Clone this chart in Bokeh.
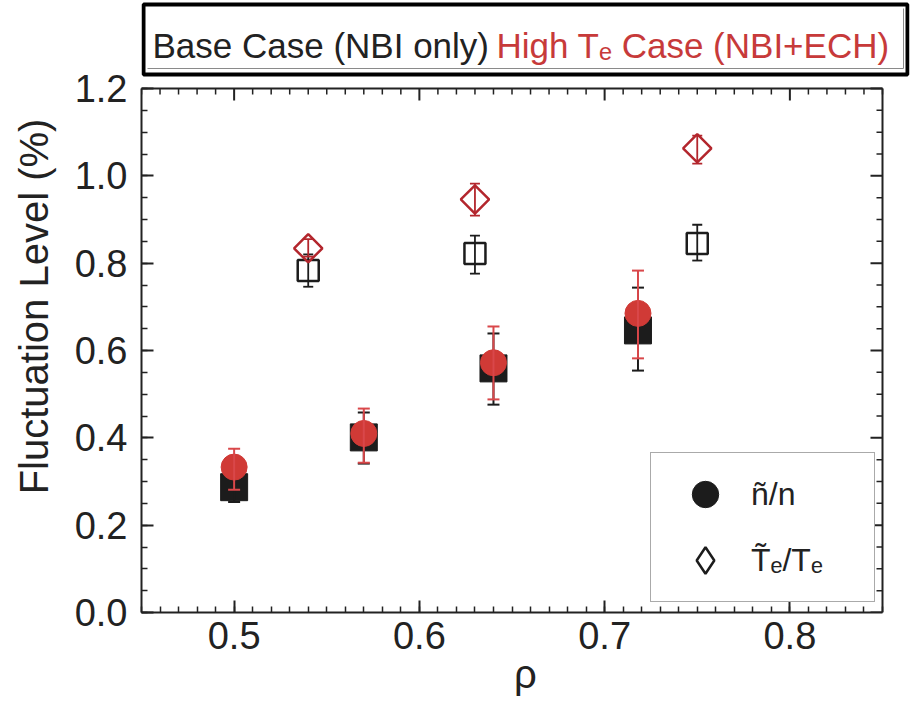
import numpy as np
from bokeh.plotting import figure
from bokeh.models import (Range1d, FixedTicker, NumeralTickFormatter,
                          Legend, LegendItem, Label)
from bokeh.embed import file_html
from bokeh.resources import INLINE

FONT = "Liberation Sans"
BLACK = "#1c1c1c"
RED = "#d03a36"
RED_BAR = "#d9474a"
DRED = "#b3262d"
TXT_RED = "#c73a3a"
AX = "#222222"

# ---------------- data ----------------
rho_n = [0.50, 0.57, 0.64, 0.718]
base_n = [0.287, 0.401, 0.559, 0.646]
base_n_lo = [0.253, 0.341, 0.476, 0.554]
base_n_hi = [0.320, 0.458, 0.639, 0.744]
high_n = [0.333, 0.410, 0.572, 0.685]
high_n_lo = [0.281, 0.343, 0.488, 0.582]
high_n_hi = [0.375, 0.467, 0.655, 0.783]

rho_T = [0.54, 0.63, 0.75]
base_T = [0.783, 0.822, 0.845]
base_T_lo = [0.746, 0.776, 0.806]
base_T_hi = [0.820, 0.863, 0.888]
high_T = [0.834, 0.946, 1.063]
high_T_lo = [0.815, 0.909, 1.028]
high_T_hi = [0.855, 0.982, 1.092]

x_ticks = [0.5, 0.6, 0.7, 0.8]
x_minor = [round(0.45 + 0.01 * i, 2) for i in range(41)]
y_ticks = [0.0, 0.2, 0.4, 0.6, 0.8, 1.0, 1.2]
y_minor = [round(0.05 * i, 2) for i in range(25)]

title_parts = ["Base Case (NBI only)", "High T\u2091 Case (NBI+ECH)"]
legend_labels = ["\u00f1/n", "T\u0303\u2091/T\u2091"]
x_label = "\u03c1"
y_label = "Fluctuation Level (%)"

# ---------------- layout constants (pixels) ----------------
W, H = 911, 709
PL, PR, PT, PB = 141, 882, 88, 612          # plot box
FL, FR, FT, FB = 141, 909, 0, 612           # bokeh frame (includes the title band)
X0, X1 = 0.45, 0.85
Y0, Y1 = 0.0, 1.2
DX = (X1 - X0) / (PR - PL)
DY = (Y1 - Y0) / (PB - PT)


def px2x(px):
    return X0 + (px - PL) * DX


def py2y(py):
    return Y0 + (PB - py) * DY


p = figure(width=W, height=H,
           x_range=Range1d(px2x(FL), px2x(FR)), y_range=Range1d(py2y(FB), py2y(FT)),
           output_backend="svg", toolbar_location=None,
           min_border_left=FL, min_border_right=W - FR, min_border_top=FT,
           min_border_bottom=H - FB,
           x_axis_label=x_label, y_axis_label=y_label)
p.grid.visible = False
p.background_fill_color = "white"
p.border_fill_color = "white"
p.outline_line_color = None

p.xaxis.ticker = FixedTicker(ticks=x_ticks, minor_ticks=x_minor)
p.yaxis.ticker = FixedTicker(ticks=y_ticks, minor_ticks=y_minor)
p.xaxis.bounds = (X0, X1)
p.yaxis.bounds = (Y0, Y1)
for ax in p.axis:
    ax.formatter = NumeralTickFormatter(format="0.0")
    ax.axis_line_width = 2
    ax.axis_line_color = AX
    ax.major_tick_in = 12
    ax.major_tick_out = 0
    ax.minor_tick_in = 6
    ax.minor_tick_out = 0
    ax.major_tick_line_width = 2
    ax.minor_tick_line_width = 1.5
    ax.major_tick_line_color = AX
    ax.minor_tick_line_color = AX
    ax.major_label_text_font = FONT
    ax.major_label_text_font_size = "38px"
    ax.major_label_text_color = AX
    ax.axis_label_text_font = FONT
    ax.axis_label_text_font_style = "normal"
    ax.axis_label_text_color = AX
p.xaxis.major_label_standoff = 9
p.yaxis.major_label_standoff = 14
p.xaxis.axis_label_text_font_size = "40px"
p.xaxis.axis_label_standoff = 0
p.yaxis.axis_label_text_font_size = "40px"
p.yaxis.axis_label_standoff = 16

# top and right edges of the plot box with mirrored ticks
p.segment(x0=[X0, X1], y0=[Y1, Y0], x1=[X1, X1], y1=[Y1, Y1], line_color=AX, line_width=2)
x_min_only = [v for v in x_minor if v not in x_ticks]
y_min_only = [v for v in y_minor if v not in y_ticks]
p.segment(x0=x_ticks, y0=[Y1] * len(x_ticks), x1=x_ticks, y1=[Y1 - 12 * DY] * len(x_ticks),
          line_color=AX, line_width=2)
p.segment(x0=x_min_only, y0=[Y1] * len(x_min_only), x1=x_min_only,
          y1=[Y1 - 6 * DY] * len(x_min_only), line_color=AX, line_width=1.5)
p.segment(x0=[X1] * len(y_ticks), y0=y_ticks, x1=[X1 - 12 * DX] * len(y_ticks), y1=y_ticks,
          line_color=AX, line_width=2)
p.segment(x0=[X1] * len(y_min_only), y0=y_min_only, x1=[X1 - 6 * DX] * len(y_min_only),
          y1=y_min_only, line_color=AX, line_width=1.5)


def errbar(x, lo, hi, color, lw=2.0, cap=12):
    p.segment(x0=x, y0=lo, x1=x, y1=hi, line_color=color, line_width=lw)
    p.scatter(x, lo, marker="dash", size=cap, line_color=color, line_width=lw)
    p.scatter(x, hi, marker="dash", size=cap, line_color=color, line_width=lw)


# base case density fluctuations (filled black squares)
p.scatter(rho_n, base_n, marker="square", size=27, fill_color=BLACK, line_color=BLACK)
errbar(rho_n, base_n_lo, base_n_hi, BLACK)
# high Te density fluctuations (red circles)
p.scatter(rho_n, high_n, marker="circle", size=26, fill_color=RED, line_color=RED)
errbar(rho_n, high_n_lo, high_n_hi, RED_BAR)

# base case Te fluctuations (open black squares)
p.scatter(rho_T, base_T, marker="square", size=21, fill_color=None, line_color=BLACK,
          line_width=2.5)
errbar(rho_T, base_T_lo, base_T_hi, BLACK, lw=1.8, cap=10)
# high Te Te fluctuations (open red diamonds)
p.scatter(rho_T, high_T, marker="square", angle=np.pi / 4, size=20, fill_color=None,
          line_color=DRED, line_width=2.5)
errbar(rho_T, high_T_lo, high_T_hi, DRED, lw=1.8, cap=10)

# legend (proxy renderers with no visible points)
r_c = p.scatter([np.nan], [np.nan], marker="circle", fill_color=BLACK, line_color=BLACK)
r_d = p.scatter([np.nan], [np.nan], marker="diamond", fill_color=None, line_color=BLACK,
                line_width=2.5)
legend = Legend(items=[LegendItem(label=legend_labels[0], renderers=[r_c]),
                       LegendItem(label=legend_labels[1], renderers=[r_d])],
                location=(650 - FL, 10), padding=8, spacing=0, glyph_width=92,
                glyph_height=66, label_standoff=0, label_width=115, label_text_font=FONT,
                label_text_font_size="32px", label_text_color=AX,
                border_line_color="#555555", border_line_width=1.5,
                background_fill_color="white", background_fill_alpha=1.0, margin=0)
p.add_layout(legend)

# boxed title band above the plot box
p.quad(left=[px2x(FL + 2)], right=[px2x(FR - 2)], top=[py2y(4)], bottom=[py2y(74)],
       fill_color="white", line_color="black", line_width=4)
p.segment(x0=[px2x(FL + 6), px2x(FR - 6)], y0=[py2y(68), py2y(68)],
          x1=[px2x(FR - 6), px2x(FR - 6)], y1=[py2y(68), py2y(8)],
          line_color="#8a8a8a", line_width=1)
TXT_Y = py2y(45)
p.add_layout(Label(x=px2x(152), y=TXT_Y, text=title_parts[0], text_font=FONT,
                   text_font_size="35px", text_color=AX, text_baseline="middle"))
p.add_layout(Label(x=px2x(496), y=TXT_Y, text=title_parts[1], text_font=FONT,
                   text_font_size="35px", text_color=TXT_RED, text_baseline="middle"))

open("out.html", "w").write(file_html(p, INLINE))
